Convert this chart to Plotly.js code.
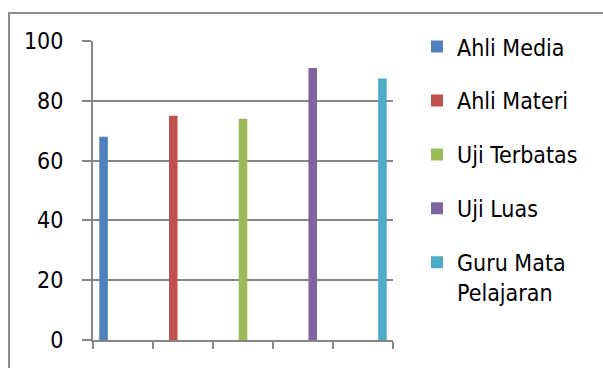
<!DOCTYPE html>
<html>
<head>
<meta charset="utf-8">
<script src="https://cdn.plot.ly/plotly-3.0.1.min.js"></script>
<style>
html,body{margin:0;padding:0;background:#fff;}
#wrap{position:relative;width:603px;height:368px;overflow:hidden;}
#chart{position:absolute;left:0;top:0;width:603px;height:368px;}
#frame{position:absolute;left:8px;top:12px;width:620px;height:400px;border-top:2px solid #8c8c8c;border-left:2px solid #8c8c8c;pointer-events:none;}
</style>
</head>
<body>
<div id="wrap"><div id="chart"></div><div id="frame"></div></div>
<script>
const categories = ['1', '2', '3', '4', '5'];
const seriesNames = ['Ahli Media', 'Ahli Materi', 'Uji Terbatas', 'Uji Luas', 'Guru Mata<br>Pelajaran'];
const seriesValues = [68, 75, 74, 91, 87.5];
const seriesColors = ['#4f81bd', '#c0504d', '#9bbb59', '#8064a2', '#4bacc6'];
const yTicks = [0, 20, 40, 60, 80, 100];

const FONT = '"DejaVu Sans Condensed", "DejaVu Sans", sans-serif';

const traces = seriesNames.map((name, i) => ({
  type: 'bar',
  name: name,
  legendgroup: 'g' + i,
  offsetgroup: 'g' + i,
  x: categories,
  y: categories.map((c, j) => (j === i ? seriesValues[i] : null)),
  marker: {color: seriesColors[i], line: {width: 0}},
  hoverinfo: 'skip'
}));

const layout = {
  width: 603,
  height: 368,
  margin: {l: 93, r: 210, t: 41, b: 28, pad: 0},
  paper_bgcolor: '#ffffff',
  plot_bgcolor: '#ffffff',
  barmode: 'group',
  bargap: 0.19,
  bargroupgap: 0.12,
  showlegend: true,
  font: {family: FONT, size: 23, color: '#000000'},
  xaxis: {
    type: 'category',
    categoryorder: 'array',
    categoryarray: categories,
    showticklabels: false,
    showgrid: false,
    zeroline: false,
    showline: true,
    linecolor: '#868686',
    linewidth: 2,
    ticks: 'outside',
    tickson: 'boundaries',
    ticklen: 7,
    tickwidth: 2,
    tickcolor: '#868686',
    fixedrange: true
  },
  yaxis: {
    range: [0, 100],
    tickvals: yTicks,
    ticktext: yTicks.map(String),
    showgrid: true,
    gridcolor: '#868686',
    gridwidth: 2,
    zeroline: false,
    showline: true,
    linecolor: '#868686',
    linewidth: 2,
    ticks: 'outside',
    ticklen: 9,
    tickwidth: 2,
    tickcolor: '#868686',
    ticklabelstandoff: 14,
    tickfont: {family: FONT, size: 23, color: '#000000'},
    fixedrange: true
  },
  legend: {
    x: 1.08,
    xanchor: 'left',
    y: 1.053,
    yanchor: 'top',
    traceorder: 'grouped',
    tracegroupgap: 21,
    valign: 'top',
    maxheight: 400,
    bgcolor: 'rgba(0,0,0,0)',
    borderwidth: 0,
    itemclick: false,
    itemdoubleclick: false,
    font: {family: FONT, size: 23, color: '#000000'}
  }
};

Plotly.newPlot('chart', traces, layout, {displayModeBar: false, staticPlot: true});
</script>
</body>
</html>
